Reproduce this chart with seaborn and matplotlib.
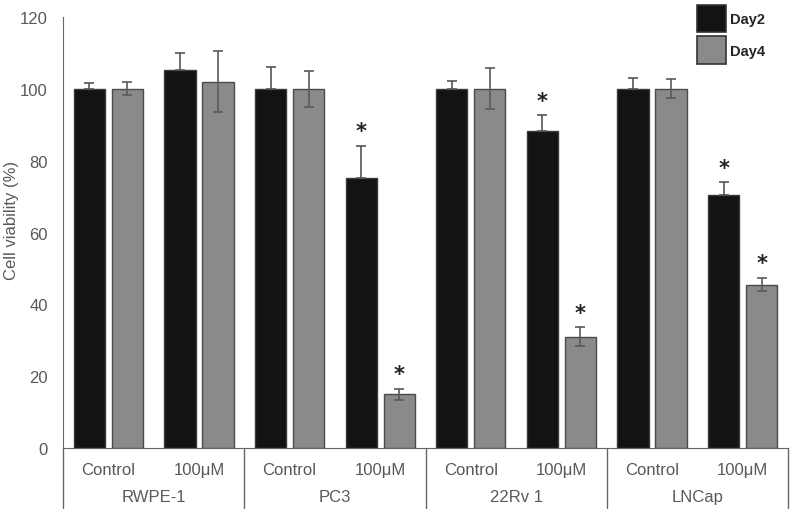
import numpy as np
import pandas as pd
import matplotlib
matplotlib.use("Agg")
import matplotlib.pyplot as plt
from matplotlib.patches import Patch
import seaborn as sns

cell_lines = ["RWPE-1", "PC3", "22Rv 1", "LNCap"]
treatments = ["Control", "100\u03bcM"]
days = ["Day2", "Day4"]

# viability (%) per cell line / treatment, one list per day
day2_mean = [100, 105.3, 100, 75.2, 100, 88.3, 100, 70.5]
day4_mean = [100, 102.0, 100, 15.0, 100, 31.0, 100, 45.5]
day2_err = [1.5, 4.7, 6.2, 9.0, 2.1, 4.4, 2.9, 3.6]
day4_err = [1.8, 8.4, 5.0, 1.5, 5.7, 2.6, 2.6, 1.9]
day2_sig = [False, False, False, True, False, True, False, True]
day4_sig = [False, False, False, True, False, True, False, True]

rows = []
for i, cl in enumerate(cell_lines):
    for j, tr in enumerate(treatments):
        k = i * 2 + j
        cat = f"{cl}|{tr}"
        rows.append(dict(cat=cat, day="Day2", value=day2_mean[k], err=day2_err[k], sig=day2_sig[k]))
        rows.append(dict(cat=cat, day="Day4", value=day4_mean[k], err=day4_err[k], sig=day4_sig[k]))
df = pd.DataFrame(rows)
cats = list(dict.fromkeys(df["cat"]))

sns.set_style("white")
plt.rcParams["font.family"] = ["Liberation Sans", "DejaVu Sans"]

colors = {"Day2": "#131313", "Day4": "#8a8a8a"}
err_colors = {"Day2": "#555555", "Day4": "#5a5a5a"}
edge_colors = {"Day2": "#3a3a3a", "Day4": "#4a4a4a"}
gray_txt = "#595959"

fig = plt.figure(figsize=(7.9, 5.1), dpi=100)
ax = fig.add_axes([63 / 790, 61 / 510, 725 / 790, 431 / 510])

sns.barplot(data=df, x="cat", y="value", hue="day", order=cats, hue_order=days,
            palette=colors, width=0.84, gap=0.18, errorbar=None, legend=False,
            linewidth=1.0, edgecolor="#3a3a3a", ax=ax)

for cont, d in zip(ax.containers, days):
    sub = df[df["day"] == d].set_index("cat").loc[cats]
    xs = [p.get_x() + p.get_width() / 2 for p in cont.patches]
    for p in cont.patches:
        p.set_edgecolor(edge_colors[d])
    err = sub["err"].to_numpy()
    # the lower half is hidden against the black Day2 bars
    yerr = [np.zeros_like(err), err] if d == "Day2" else err
    ax.errorbar(xs, sub["value"], yerr=yerr, fmt="none",
                ecolor=err_colors[d], elinewidth=1.2, capsize=3.5, capthick=1.2, zorder=3)
    for x, v, e, s in zip(xs, sub["value"], sub["err"], sub["sig"]):
        if s:
            ax.text(x, v + e + 1.2, "*", ha="center", va="bottom",
                    fontsize=15, fontweight="bold", color="#222222", fontfamily="DejaVu Sans")

ax.set_ylim(0, 120)
ax.set_yticks(np.arange(0, 121, 20))
ax.tick_params(axis="y", length=0, labelsize=12, labelcolor=gray_txt, pad=11)
ax.set_ylabel("Cell viability (%)", fontsize=12, color=gray_txt)
ax.yaxis.set_label_coords(-0.061, 0.53)
ax.set_xlabel("")
ax.set_xlim(-0.5, len(cats) - 0.5)

ax.set_xticks(range(len(cats)))
ax.set_xticklabels([c.split("|")[1] for c in cats])
ax.tick_params(axis="x", length=0, labelsize=12, labelcolor=gray_txt, pad=10)

for side in ["top", "right"]:
    ax.spines[side].set_visible(False)
ax.spines["left"].set_color("#666666")
ax.spines["bottom"].set_color("#666666")

# group labels and separators under the axis
trans = ax.get_xaxis_transform()
for i, cl in enumerate(cell_lines):
    ax.text(i * 2 + 0.5, -0.112, cl, transform=trans, ha="center", va="center",
            fontsize=12, color=gray_txt)
for b in np.arange(-0.5, len(cats), 2):
    ax.plot([b, b], [0, -0.14], transform=trans, color="#666666", lw=1.0, clip_on=False)

handles = [Patch(facecolor=colors[d], edgecolor="#333333", linewidth=1.2) for d in days]
leg = fig.legend(handles, days, loc="upper left", bbox_to_anchor=(691 / 790, 1 - 0 / 510),
                 frameon=False, handlelength=2.0, handleheight=2.5, handletextpad=0.3,
                 labelspacing=0.3, prop=dict(weight="bold", size=10.5), borderaxespad=0)

fig.savefig("out.png", dpi=100)
